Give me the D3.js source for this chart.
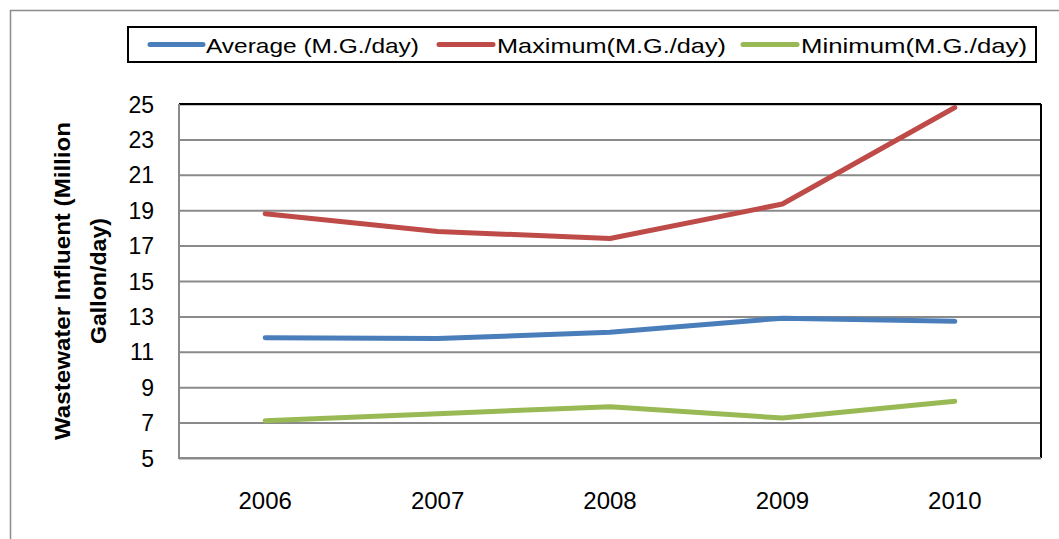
<!DOCTYPE html>
<html><head><meta charset="utf-8">
<script src="https://cdn.jsdelivr.net/npm/d3@7/dist/d3.min.js"></script>
<style>body{margin:0;background:#fff;}svg{display:block;}text{font-family:"Liberation Sans",Arial,sans-serif;}</style>
</head><body>
<svg id="c" width="1059" height="539"></svg>
<script>
const years = ["2006","2007","2008","2009","2010"];
const averageVals = [11.8, 11.75, 12.1, 12.9, 12.72];
const maximumVals = [18.8, 17.8, 17.4, 19.35, 24.8];
const minimumVals = [7.1, 7.5, 7.9, 7.26, 8.2];
const seriesNames = ["Average (M.G./day)", "Maximum(M.G./day)", "Minimum(M.G./day)"];
const seriesColors = ["#4A7EBB", "#BE4B48", "#98B954"];
const yTicks = [5,7,9,11,13,15,17,19,21,23,25];

const svg = d3.select("#c");
svg.append("rect").attr("x",10.5).attr("y",10.5).attr("width",1070).attr("height",560)
  .attr("fill","none").attr("stroke","#8c8c8c").attr("stroke-width",1.5);

const L=179, R=1041, T=104, B=458;
const x = d3.scaleBand().domain(years).range([L,R]);
const y = d3.scaleLinear().domain([5,25]).range([B,T]);

// gridlines
const yAxis = d3.axisLeft(y).tickValues(yTicks).tickSize(-(R-L)).tickFormat("");
const gy = svg.append("g").attr("transform",`translate(${L},0)`).call(yAxis);
gy.select(".domain").remove();
gy.selectAll("line").attr("stroke","#8a8a8a").attr("stroke-width",2);
// tick labels
yTicks.forEach(v=>{
  svg.append("text").attr("x",154).attr("y",y(v)+8.5).attr("text-anchor","end")
    .attr("font-size",23).attr("fill","#000").text(v);
});
// plot frame
svg.append("line").attr("x1",L).attr("x2",R).attr("y1",T).attr("y2",T).attr("stroke","#000").attr("stroke-width",2);
svg.append("line").attr("x1",R).attr("x2",R).attr("y1",T).attr("y2",B).attr("stroke","#000").attr("stroke-width",2);
svg.append("line").attr("x1",L).attr("x2",L).attr("y1",T).attr("y2",B+1).attr("stroke","#8a8a8a").attr("stroke-width",2);
svg.append("line").attr("x1",L).attr("x2",R).attr("y1",B).attr("y2",B).attr("stroke","#8a8a8a").attr("stroke-width",2);

// x labels
const xAxis = d3.axisBottom(x).tickSize(0).tickPadding(0);
const gx = svg.append("g").attr("transform",`translate(0,${B})`).call(xAxis);
gx.select(".domain").remove();
gx.selectAll("text").attr("font-size",24).attr("fill","#000").attr("dy",0).attr("y",51)
  .style("font-family","'Liberation Sans',Arial,sans-serif");

// lines
const data = [averageVals, maximumVals, minimumVals];
const line = d3.line().x((d,i)=>x(years[i])+x.bandwidth()/2).y(d=>y(d));
data.forEach((vals,i)=>{
  svg.append("path").datum(vals).attr("d",line).attr("fill","none")
    .attr("stroke",seriesColors[i]).attr("stroke-width",5).attr("stroke-linecap","round").attr("stroke-linejoin","round");
});

// y title
const yt = svg.append("text").attr("font-size",22).attr("font-weight","bold")
  .attr("text-anchor","middle").attr("transform","rotate(-90)");
yt.append("tspan").attr("x",-281).attr("y",70).attr("textLength",318).attr("lengthAdjust","spacingAndGlyphs").text("Wastewater Influent (Million");
yt.append("tspan").attr("x",-281).attr("y",106).attr("textLength",126).attr("lengthAdjust","spacingAndGlyphs").text("Gallon/day)");

// legend
svg.append("rect").attr("x",128).attr("y",27).attr("width",908).attr("height",35)
  .attr("fill","#fff").attr("stroke","#000").attr("stroke-width",2);
const legItems = [
  {sx:150, ex:203, tx:206, tw:213},
  {sx:439, ex:493, tx:497, tw:229},
  {sx:743, ex:797, tx:801, tw:226}
];
legItems.forEach((it,i)=>{
  svg.append("line").attr("x1",it.sx).attr("x2",it.ex).attr("y1",44.5).attr("y2",44.5)
    .attr("stroke",seriesColors[i]).attr("stroke-width",5).attr("stroke-linecap","round");
  svg.append("text").attr("x",it.tx).attr("y",52.5).attr("font-size",21).attr("fill","#000")
    .attr("textLength",it.tw).attr("lengthAdjust","spacingAndGlyphs").text(seriesNames[i]);
});
</script>
</body></html>
